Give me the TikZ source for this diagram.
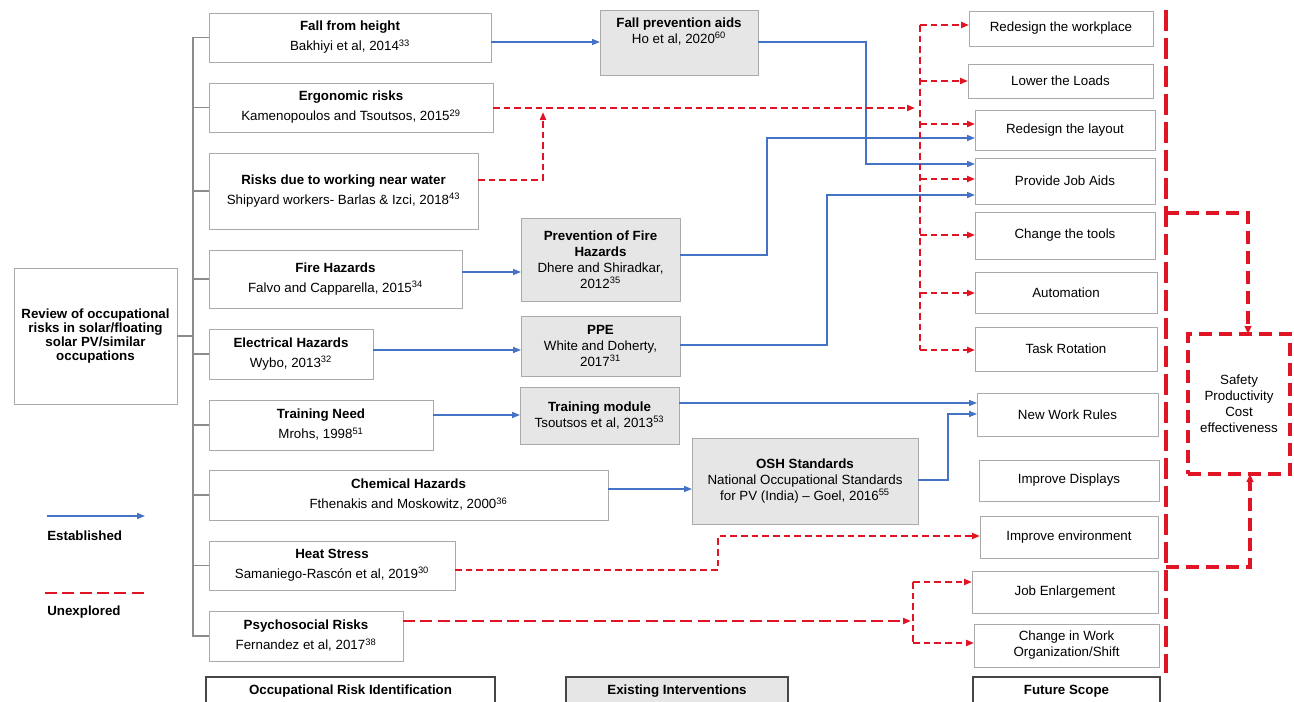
\documentclass[tikz,border=0pt]{standalone}
\usepackage{fontspec}
\setmainfont{Liberation Sans}
\usetikzlibrary{arrows.meta,calc}
\definecolor{boxgray}{RGB}{170,170,170}
\definecolor{fillgray}{RGB}{231,230,230}
\definecolor{treegray}{RGB}{140,140,140}
\definecolor{labgray}{RGB}{70,70,70}
\definecolor{estblue}{RGB}{68,114,196}
\definecolor{unxred}{RGB}{224,20,36}
\newcommand\Bx[7]{\node[#6, minimum width={(#4-#2)*0.75pt}, minimum height={(#5-#3)*0.75pt}] (#1) at ({(#2+#4)/2},{(#3+#5)/2}) {#7};}
\tikzset{
 rbox/.style={draw=boxgray, line width=0.7pt, fill=white, align=center, inner sep=0pt, outer sep=0pt, font=\fontsize{10}{12}\selectfont},
 ibox/.style={rbox, fill=fillgray},
 lbox/.style={draw=labgray, line width=1pt, fill=white, align=center, inner sep=0pt, outer sep=0pt, font=\fontsize{10}{12}\selectfont\bfseries},
 safebox/.style={draw=unxred, line width=2.4pt, dash pattern=on 10pt off 5pt, align=center, inner sep=0pt, outer sep=0pt, font=\fontsize{10}{12}\selectfont},
 est/.style={draw=estblue, line width=1.1pt, -{Triangle[length=6pt,width=4.5pt]}},
 unx/.style={draw=unxred, line width=1.5pt, dash pattern=on 5pt off 3pt},
 unxa/.style={unx, -{Triangle[length=6pt,width=4.5pt]}},
 unxthick/.style={draw=unxred, line width=2.2pt, dash pattern=on 9pt off 4pt},
 unxbig/.style={draw=unxred, line width=2.4pt, dash pattern=on 16pt off 5pt},
 tree/.style={draw=treegray, line width=0.8pt},
 legtext/.style={anchor=west, inner sep=0pt, font=\fontsize{10}{12}\selectfont\bfseries},
}
\begin{document}
\begin{tikzpicture}[x=0.75pt, y=-0.75pt]
\useasboundingbox (0,0) rectangle (1294,702);
\clip (0,0) rectangle (1294,702);
% root
\Bx{root}{14}{268}{177}{404}{rbox, font=\fontsize{10}{10.5}\selectfont\bfseries}{Review of occupational\\risks in solar/floating\\solar PV/similar\\occupations}
% risks
\Bx{fall}{209}{13}{491}{62}{rbox}{\textbf{Fall from height}\\[3pt]Bakhiyi et al, 2014\textsuperscript{33}}
\Bx{ergo}{209}{83}{493}{132}{rbox}{\textbf{Ergonomic risks}\\[3pt]Kamenopoulos and Tsoutsos, 2015\textsuperscript{29}}
\Bx{water}{209}{153}{478}{229}{rbox}{\textbf{Risks due to working near water}\\[3pt]Shipyard workers- Barlas \& Izci, 2018\textsuperscript{43}}
\Bx{fire}{209}{250}{462}{308}{rbox}{\textbf{Fire Hazards}\\[3pt]Falvo and Capparella, 2015\textsuperscript{34}}
\Bx{elec}{209}{329}{373}{379}{rbox}{\textbf{Electrical Hazards}\\[3pt]Wybo, 2013\textsuperscript{32}}
\Bx{tneed}{209}{400}{433}{450}{rbox}{\textbf{Training Need}\\[3pt]Mrohs, 1998\textsuperscript{51}}
\Bx{chem}{209}{470}{608}{520}{rbox}{\textbf{Chemical Hazards}\\[3pt]Fthenakis and Moskowitz, 2000\textsuperscript{36}}
\Bx{heat}{209}{541}{455}{590}{rbox}{\textbf{Heat Stress}\\[3pt]Samaniego-Rascón et al, 2019\textsuperscript{30}}
\Bx{psy}{209}{611}{403}{661}{rbox}{\textbf{Psychosocial Risks}\\[3pt]Fernandez et al, 2017\textsuperscript{38}}
% interventions
\Bx{fpa}{600}{10}{758}{75}{ibox}{\textbf{Fall prevention aids}\\Ho et al, 2020\textsuperscript{60}\\[6pt]}
\Bx{pfh}{521}{218}{680}{301}{ibox}{\textbf{Prevention of Fire}\\\textbf{Hazards}\\Dhere and Shiradkar,\\2012\textsuperscript{35}}
\Bx{ppe}{521}{316}{680}{376}{ibox}{\textbf{PPE}\\White and Doherty,\\2017\textsuperscript{31}}
\Bx{tm}{520}{387}{679}{444}{ibox}{\textbf{Training module}\\Tsoutsos et al, 2013\textsuperscript{53}}
\Bx{osh}{692}{438}{918}{524}{ibox}{\textbf{OSH Standards}\\National Occupational Standards\\for PV (India) -- Goel, 2016\textsuperscript{55}}
% future scope
\Bx{wp}{969}{11}{1153}{46}{rbox}{Redesign the workplace}
\Bx{loads}{968}{64}{1153}{98}{rbox}{Lower the Loads}
\Bx{layout}{975}{110}{1155}{150}{rbox}{Redesign the layout}
\Bx{jobaids}{975}{158}{1155}{204}{rbox}{Provide Job Aids}
\Bx{tools}{975}{212}{1155}{259}{rbox}{Change the tools}
\Bx{auto}{975}{272}{1157}{313}{rbox}{Automation}
\Bx{task}{975}{327}{1157}{371}{rbox}{Task Rotation}
\Bx{rules}{977}{393}{1158}{436}{rbox}{New Work Rules}
\Bx{disp}{979}{460}{1159}{501}{rbox}{Improve Displays}
\Bx{env}{980}{516}{1158}{558}{rbox}{Improve environment}
\Bx{enl}{972}{571}{1158}{613}{rbox}{Job Enlargement}
\Bx{org}{974}{624}{1159}{667}{rbox}{Change in Work\\Organization/Shift}
\Bx{safety}{1188}{334}{1290}{474}{safebox}{Safety\\Productivity\\Cost\\effectiveness}
% labels
\Bx{lab1}{206}{677}{495}{705}{lbox}{Occupational Risk Identification}
\Bx{lab2}{566}{677}{788}{705}{lbox, fill=fillgray}{Existing Interventions}
\Bx{lab3}{973}{677}{1160}{705}{lbox}{Future Scope}
% tree
\coordinate (trunk) at (193,0);
\draw[tree] (root.east) -- (root.east -| trunk);
\draw[tree] (fall.west) -- (fall.west -| trunk) -- (psy.west -| trunk) -- (psy.west);
\foreach \n in {ergo,water,fire,elec,tneed,chem,heat}
  \draw[tree] (\n.west) -- (\n.west -| trunk);
% established
\draw[est] (fall.east |- 0,42) -- (fpa.west |- 0,42);
\draw[est] (fpa.east |- 0,42) -| (866,164) -- (jobaids.west |- 0,164);
\draw[est] (pfh.east |- 0,255) -| (767,138) -- (layout.west |- 0,138);
\draw[est] (ppe.east |- 0,345) -| (827,195) -- (jobaids.west |- 0,195);
\draw[est] (fire.east |- 0,272) -- (pfh.west |- 0,272);
\draw[est] (elec.east |- 0,350) -- (ppe.west |- 0,350);
\draw[est] (tneed.east |- 0,415) -- (tm.west |- 0,415);
\draw[est] (tm.east |- 0,403) -- (rules.west |- 0,403);
\draw[est] (osh.east |- 0,480) -| (948,414) -- (rules.west |- 0,414);
\draw[est] (chem.east |- 0,489) -- (osh.west |- 0,489);
% unexplored
\coordinate (dist) at (920,0);
\draw[unxa] (ergo.east |- 0,108) -- (915,108);
\draw[unxa] (water.east |- 0,180) -| (543,112);
\draw[unx] (dist |- 0,25) -- (dist |- 0,350);
\draw[unxa] (dist |- 0,25) -- (wp.west |- 0,25);
\draw[unxa] (dist |- 0,81) -- (loads.west |- 0,81);
\draw[unxa] (dist |- 0,124) -- (layout.west |- 0,124);
\draw[unxa] (dist |- 0,179) -- (jobaids.west |- 0,179);
\draw[unxa] (dist |- 0,235) -- (tools.west |- 0,235);
\draw[unxa] (dist |- 0,293) -- (auto.west |- 0,293);
\draw[unxa] (dist |- 0,350) -- (task.west |- 0,350);
\draw[unxa] (heat.east |- 0,570) -| (718,536) -- (env.west |- 0,536);
\draw[unxthick, -{Triangle[length=6pt,width=4.5pt]}] (psy.east |- 0,621) -- (911,621);
\coordinate (pd) at (913,0);
\draw[unx] (pd |- 0,582) -- (pd |- 0,643);
\draw[unxa] (pd |- 0,582) -- (enl.west |- 0,582);
\draw[unxa] (pd |- 0,643) -- (org.west |- 0,643);
% big vertical and outcome
\coordinate (bv) at (1166,0);
\draw[unxbig] (bv |- 0,10) -- (bv |- 0,673);
\draw[unxbig, dash pattern=on 10pt off 5pt, -{Triangle[length=6pt,width=5pt]}] (bv |- 0,213) -- (1248,213) -- (1248,0 |- safety.north);
\draw[unxbig, dash pattern=on 10pt off 5pt, -{Triangle[length=6pt,width=5pt]}] (bv |- 0,567) -- (1250,567) -- (1250,0 |- safety.south);
% legend
\coordinate (la) at (47,516); \coordinate (lb) at (145,516);
\draw[est] (la) -- (lb);
\node[legtext] (ltxt1) at (47,536) {Established};
\coordinate (lc) at (45,593); \coordinate (ld) at (145,593);
\draw[unxthick] (lc) -- (ld);
\node[legtext] (ltxt2) at (47,612) {Unexplored};
\end{tikzpicture}
\end{document}
